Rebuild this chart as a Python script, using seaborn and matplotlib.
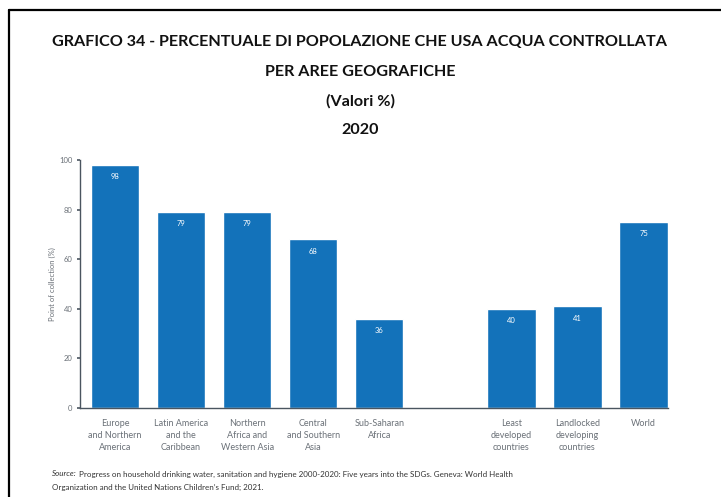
import matplotlib
matplotlib.use("Agg")
import matplotlib.pyplot as plt
from matplotlib.lines import Line2D
import seaborn as sns
import pandas as pd

# Regional groups, then a spacer slot, then aggregate groups
regions = [
    "Europe\nand Northern\nAmerica",
    "Latin America\nand the\nCaribbean",
    "Northern\nAfrica and\nWestern Asia",
    "Central\nand Southern\nAsia",
    "Sub-Saharan\nAfrica",
]
region_values = [98, 79, 79, 68, 36]

aggregates = [
    "Least\ndeveloped\ncountries",
    "Landlocked\ndeveloping\ncountries",
    "World",
]
aggregate_values = [40, 41, 75]

yticks = [0, 20, 40, 60, 80, 100]

title_lines = [
    "GRAFICO 34 - PERCENTUALE DI POPOLAZIONE CHE USA ACQUA CONTROLLATA",
    "PER AREE GEOGRAFICHE",
    "(Valori %)",
    "2020",
]
source_line1 = ("Progress on household drinking water, sanitation and hygiene 2000-2020: "
                "Five years into the SDGs. Geneva: World Health")
source_line2 = "Organization and the United Nations Children\u2019s Fund; 2021."

spacer = " "
order = regions + [spacer] + aggregates
df = pd.DataFrame({
    "area": regions + aggregates,
    "value": region_values + aggregate_values,
})

sns.set_theme(style="white")
plt.rcParams["font.family"] = ["Lato", "DejaVu Sans"]

BAR = "#1372BA"
AXIS = "#4a5560"
GREY = "#6b7178"

fig = plt.figure(figsize=(7.21, 4.97), dpi=100)
fig.patch.set_facecolor("white")
ax = fig.add_axes([80 / 721, 1 - 408 / 497, (668 - 80) / 721, (408 - 160) / 497])

sns.barplot(data=df, x="area", y="value", order=order, color=BAR,
            saturation=1, width=0.73, ax=ax)

ax.set_xlim(-0.53, 8.37)
ax.set_ylim(0, 100)
ax.set_yticks(yticks)
ax.set_yticklabels([str(t) for t in yticks], fontsize=5.5, color=GREY)
ax.tick_params(axis="y", length=2.5, width=1.2, color=AXIS, pad=3, left=True)
ax.tick_params(axis="x", length=0, pad=8)
ax.set_xticks(range(len(order)))
ax.set_xticklabels(order, fontsize=6.5, color=GREY, linespacing=1.45)
ax.set_xlabel("")
ax.set_ylabel("Point of collection (%)", fontsize=5.5, color=GREY, labelpad=2)

for side in ["top", "right"]:
    ax.spines[side].set_visible(False)
ax.spines["left"].set_color(AXIS)
ax.spines["bottom"].set_color(AXIS)
ax.spines["left"].set_linewidth(1.0)
ax.spines["bottom"].set_linewidth(1.0)

# Value labels inside the top of each bar
for container in ax.containers:
    ax.bar_label(container, labels=[f"{v:.0f}" for v in container.datavalues],
                 label_type="edge", padding=-11, color="white", fontsize=5.5)

# Title block
title_y = [42, 72, 101, 130]
for line, y in zip(title_lines, title_y):
    fig.text(360 / 721, 1 - y / 497, line, ha="center", va="center",
             fontsize=11.6, fontweight="bold", color="#111111")

# Source note: italic lead-in followed by the reference text
src = fig.text(52 / 721, 1 - 474 / 497, "Source:", fontsize=5.8, style="italic",
               color="#333333", va="center", ha="left")
ax.annotate(" " + source_line1, xy=(1, 0.5), xycoords=src, va="center",
            ha="left", fontsize=5.8, color="#333333", annotation_clip=False)
fig.text(52 / 721, 1 - 487 / 497, source_line2, fontsize=5.8,
         color="#333333", va="center", ha="left")

# Outer frame (left and top edges)
fig.add_artist(Line2D([8.5 / 721, 8.5 / 721], [0, 1 - 10 / 497],
                      transform=fig.transFigure, color="black", lw=1.6))
fig.add_artist(Line2D([8.5 / 721, 1], [1 - 10 / 497, 1 - 10 / 497],
                      transform=fig.transFigure, color="black", lw=1.6))

fig.savefig("out.png", dpi=100, facecolor="white")
